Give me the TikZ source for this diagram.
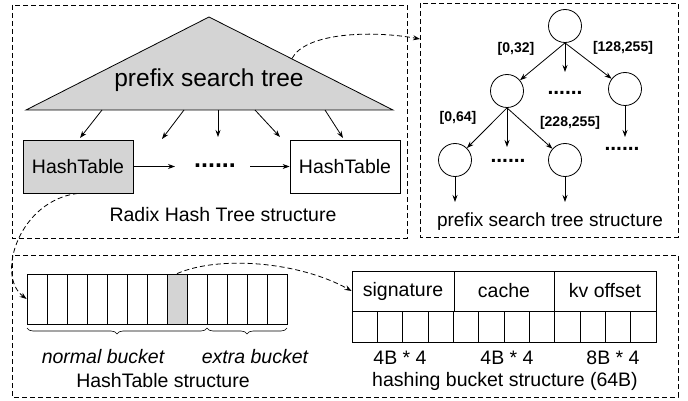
\documentclass[tikz,border=0pt]{standalone}
\usepackage{fontspec}
\setmainfont{Liberation Sans}
\usetikzlibrary{arrows.meta,decorations.pathreplacing}
\tikzset{
  tip/.style={-{Stealth[length=7pt,width=5pt]}},
  frame/.style={draw,dash pattern=on 5pt off 3pt,line width=0.8pt},
  link/.style={draw,dash pattern=on 5pt off 3pt,line width=0.8pt,-{Stealth[length=7pt,width=5pt]}},
  txt/.style={inner sep=0pt,font=\fontsize{19.5}{22}\selectfont},
  lbl/.style={inner sep=0pt,font=\fontsize{14}{16}\selectfont\bfseries},
  dots/.style={inner sep=0pt,font=\fontsize{21}{24}\selectfont\bfseries},
  htbox/.style={draw,line width=0.8pt,minimum width=110pt,minimum height=53pt,inner sep=0pt,font=\fontsize{19.5}{22}\selectfont},
  tnode/.style={draw,circle,line width=0.8pt,minimum size=33pt,inner sep=0pt},
  cellbox/.style={draw,line width=0.8pt,inner sep=0pt,font=\fontsize{19.5}{22}\selectfont},
}
\begin{document}
\begin{tikzpicture}[x=1pt,y=-1pt,line width=0.8pt]
\useasboundingbox (0,0) rectangle (688,401);

% ---------- Radix Hash Tree structure ----------
\draw[frame] (12,5) rectangle (407,238);
\coordinate (apex) at (209,17);
\coordinate (bl) at (26,110);
\coordinate (br) at (393,110);
\draw[fill=black!17] (apex) -- (br) -- (bl) -- cycle;
\node[inner sep=0pt,font=\fontsize{24.5}{28}\selectfont] (pst) at (209,80) {prefix search tree};
\coordinate (treeedge) at (292,58.5);

\node[htbox,fill=black!17] (ht1) at (78,166.5) {HashTable};
\node[htbox] (ht2) at (345,166.5) {HashTable};
\node[dots,font=\fontsize{25}{28}\selectfont\bfseries] (hdots) at (215,166) {......};
\coordinate (hd1) at (175,166.5);
\coordinate (hd2) at (250,166.5);
\draw[tip] (ht1.east) -- (hd1);
\draw[tip] (hd2) -- (ht2.west);

\foreach \sx/\sy/\ex/\ey/\n in {102/110/80/138/a, 184/110/162/139/b, 218/110/218/137/c, 255/110/280/137/d, 325/110/343/138/e}{
  \coordinate (s\n) at (\sx,\sy);
  \coordinate (e\n) at (\ex,\ey);
  \draw[tip] (s\n) -- (e\n);
}
\node[txt] (rhts) at (223,215) {Radix Hash Tree structure};

% ---------- prefix search tree structure ----------
\draw[frame] (420,3) rectangle (678,237);
\node[tnode] (root) at (565,26) {};
\node[tnode] (L) at (507,91) {};
\node[tnode] (R) at (625,89) {};
\node[tnode] (LL) at (455,160) {};
\node[tnode] (LR) at (565,160) {};
\coordinate (rm) at (565,72);
\coordinate (lm) at (507,147);
\coordinate (rd) at (625,137);
\coordinate (lld) at (455,202);
\coordinate (lrd) at (565,202);
\draw[tip] (root.south) -- (L);
\draw[tip] (root.south) -- (R);
\draw[tip] (root.south) -- (rm);
\draw[tip] (L.south) -- (LL);
\draw[tip] (L.south) -- (LR);
\draw[tip] (L.south) -- (lm);
\draw[tip] (R.south) -- (rd);
\draw[tip] (LL.south) -- (lld);
\draw[tip] (LR.south) -- (lrd);
\node[lbl] (l032) at (516,49) {[0,32]};
\node[lbl] (l128) at (623,48) {[128,255]};
\node[lbl] (l064) at (458,118) {[0,64]};
\node[lbl] (l228) at (570,123) {[228,255]};
\node[dots] (d1) at (565,93) {......};
\node[dots] (d2) at (508,161) {......};
\node[dots] (d3) at (622,149) {......};
\node[txt,font=\fontsize{19}{22}\selectfont] (psts) at (550,222) {prefix search tree structure};

\coordinate (topin) at (420,39);
\draw[link] (treeedge) .. controls (305,33) and (370,30) .. (topin);

% ---------- HashTable / bucket structure ----------
\draw[frame] (12,255) rectangle (678,397);
\node[draw,inner sep=0pt,minimum width=260pt,minimum height=50pt] (arr) at (157,299) {};
\node[draw,fill=black!17,inner sep=0pt,minimum width=20pt,minimum height=50pt] (grey) at (177,299) {};
\foreach \i in {1,...,12}{
  \draw (27+20*\i,274) -- (27+20*\i,324);
}
\draw[decorate,decoration={brace,mirror,amplitude=6pt},line width=0.6pt] (27,328) -- (207,328);
\draw[decorate,decoration={brace,mirror,amplitude=6pt},line width=0.6pt] (207,328) -- (287,328);
\node[txt,font=\fontsize{19.5}{22}\selectfont\itshape] (nb) at (103,357) {normal bucket};
\node[txt,font=\fontsize{19.5}{22}\selectfont\itshape] (eb) at (255,357) {extra bucket};
\node[txt] (hts) at (163,381) {HashTable structure};

\node[cellbox,minimum width=102pt,minimum height=40pt] (sig) at (403,291) {signature};
\node[cellbox,minimum width=100pt,minimum height=40pt] (cache) at (504,291) {cache};
\node[cellbox,minimum width=102pt,minimum height=40pt] (kv) at (605,291) {kv offset};
\node[draw,inner sep=0pt,minimum width=304pt,minimum height=31pt] (cells) at (504,326.5) {};
\foreach \i in {1,...,11}{
  \draw (352+25.333*\i,311) -- (352+25.333*\i,342);
}
\node[txt] (s1) at (400,358) {4B * 4};
\node[txt] (s2) at (507,358) {4B * 4};
\node[txt] (s3) at (613,358) {8B * 4};
\node[txt] (hbs) at (505,381) {hashing bucket structure (64B)};

\draw[link] (ht1.south) .. controls (20,200) and (-5,275) .. (arr.west);
\draw[link] (grey.north) .. controls (220,255) and (300,262) .. (sig.west);
\end{tikzpicture}
\end{document}
